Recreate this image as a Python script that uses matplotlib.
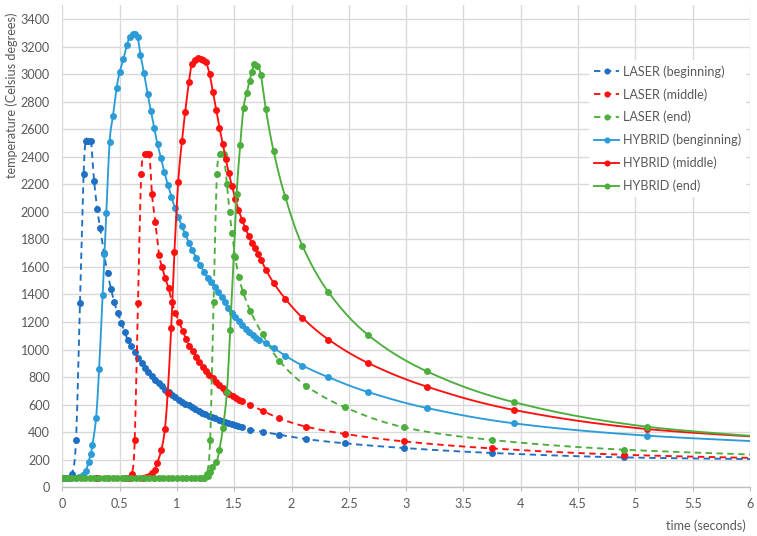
import numpy as np
import matplotlib
matplotlib.use('Agg')
import matplotlib.pyplot as plt
from matplotlib.lines import Line2D

plt.rcParams['font.family'] = ['Lato', 'DejaVu Sans']

# ---------------- data (time in s, temperature in °C) ----------------
lb_t = [0, 0.03, 0.06, 0.085, 0.12, 0.154, 0.186, 0.204, 0.226, 0.25, 0.277, 0.305, 0.33, 0.363, 0.395,
        0.425, 0.453, 0.484, 0.514, 0.543, 0.573, 0.602, 0.631, 0.661, 0.692, 0.722, 0.752, 0.782, 0.811,
        0.84, 0.869, 0.898, 0.927, 0.956, 0.985, 1.014, 1.043, 1.073, 1.102, 1.131, 1.16, 1.189, 1.218,
        1.247, 1.276, 1.305, 1.334, 1.363, 1.392, 1.421, 1.45, 1.479, 1.508, 1.537, 1.566, 1.64, 1.75,
        1.895, 2.128, 2.468, 2.982, 3.753, 4.90, 6.6]
lb_T = [65, 65, 70, 95, 345, 1340, 2272, 2515, 2515, 2515, 2227, 2020, 1882, 1700, 1555,
        1441, 1344, 1264, 1194, 1127, 1068, 1025, 985, 940, 903, 868, 838, 811, 782,
        755, 733, 710, 690, 671, 653, 637, 622, 607, 594, 582, 568, 555, 543,
        532, 521, 510, 500, 490, 481, 472, 464, 456, 449, 442, 436, 418, 402,
        382, 350, 319, 285, 249, 217, 200]

lm_t = [0, 0.3, 0.55, 0.58, 0.608, 0.632, 0.66, 0.689, 0.718, 0.739, 0.76, 0.782, 0.811, 0.844, 0.871,
        0.898, 0.927, 0.957, 0.986, 1.02, 1.05, 1.08, 1.109, 1.14, 1.169, 1.197, 1.226, 1.255, 1.284,
        1.313, 1.342, 1.371, 1.40, 1.429, 1.458, 1.487, 1.516, 1.545, 1.567, 1.64, 1.752, 1.895, 2.128,
        2.468, 2.982, 3.753, 4.90, 6.6]
lm_T = [65, 65, 65, 70, 96, 345, 1340, 2275, 2418, 2418, 2418, 2130, 1928, 1688, 1600,
        1518, 1447, 1344, 1269, 1199, 1135, 1078, 1026, 988, 944, 908, 875, 845, 817,
        792, 766, 740, 718, 695, 678, 663, 650, 637, 629, 598, 555, 500, 440,
        387, 333, 282, 236, 203]

le_t = [0, 0.4, 0.8, 1.2, 1.235, 1.262, 1.29, 1.32, 1.349, 1.38, 1.407, 1.436, 1.459, 1.481, 1.509,
        1.54, 1.576, 1.64, 1.747, 1.895, 2.128, 2.468, 2.982, 3.753, 4.90, 6.6]
le_T = [65, 65, 65, 65, 70, 96, 345, 1342, 2276, 2418, 2418, 2205, 2000, 1845, 1671,
        1530, 1420, 1282, 1110, 917, 736, 580, 435, 343, 273, 222]

hb_t = [0, 0.04, 0.08, 0.12, 0.15, 0.18, 0.205, 0.229, 0.247, 0.262, 0.295, 0.321, 0.352, 0.368, 0.384,
        0.413, 0.442, 0.473, 0.50, 0.533, 0.564, 0.59, 0.614, 0.637, 0.657, 0.682, 0.713, 0.745, 0.773,
        0.802, 0.831, 0.862, 0.891, 0.922, 0.952, 0.981, 1.013, 1.042, 1.072, 1.104, 1.135, 1.17, 1.204,
        1.238, 1.27, 1.30, 1.33, 1.36, 1.39, 1.42, 1.45, 1.48, 1.51, 1.54, 1.57, 1.60, 1.63, 1.66, 1.69,
        1.72, 1.776, 1.843, 1.945, 2.095, 2.322, 2.666, 3.18, 3.944, 5.099, 6.83]
hb_T = [65, 65, 65, 68, 75, 92, 115, 185, 240, 305, 505, 856, 1394, 1697, 1990,
        2509, 2696, 2896, 3013, 3108, 3211, 3272, 3288, 3289, 3270, 3140, 3005, 2853, 2732,
        2609, 2489, 2388, 2286, 2194, 2110, 2031, 1960, 1896, 1839, 1775, 1720, 1663, 1611,
        1562, 1519, 1490, 1452, 1416, 1381, 1345, 1304, 1268, 1237, 1207, 1177, 1150, 1127, 1105, 1087,
        1072, 1049, 1012, 956, 884, 799, 692, 576, 464, 375, 305]

hm_t = [0, 0.3, 0.6, 0.70, 0.73, 0.76, 0.785, 0.805, 0.83, 0.865, 0.895, 0.92, 0.95, 0.978, 1.011,
        1.044, 1.072, 1.105, 1.13, 1.157, 1.182, 1.206, 1.23, 1.253, 1.285, 1.314, 1.343, 1.371, 1.40,
        1.426, 1.452, 1.48, 1.508, 1.537, 1.567, 1.597, 1.626, 1.652, 1.68, 1.708, 1.735, 1.776, 1.843,
        1.945, 2.095, 2.322, 2.666, 3.18, 3.944, 5.099, 6.83]
hm_T = [65, 65, 65, 66, 72, 85, 103, 127, 180, 272, 423, 687, 1155, 1705, 2217,
        2515, 2726, 2944, 3076, 3105, 3117, 3111, 3101, 3087, 3000, 2867, 2740, 2612, 2494,
        2385, 2282, 2188, 2096, 2016, 1944, 1880, 1826, 1776, 1738, 1696, 1650, 1580, 1485,
        1369, 1231, 1073, 903, 731, 561, 423, 330]

he_t = [0, 0.04, 0.08, 0.12, 0.16, 0.2, 0.24, 0.28, 0.32, 0.36, 0.4, 0.44, 0.48, 0.52, 0.56, 0.6,
        0.64, 0.68, 0.72, 0.76, 0.8, 0.84, 0.88, 0.92, 0.96, 1.0, 1.04, 1.08, 1.12, 1.16, 1.2, 1.24,
        1.27, 1.29, 1.31, 1.345, 1.37, 1.401, 1.436, 1.465, 1.497, 1.521, 1.552, 1.581, 1.61, 1.634,
        1.654, 1.676, 1.703, 1.732, 1.776, 1.843, 1.945, 2.095, 2.322, 2.666, 3.18, 3.944, 5.099, 6.83]
he_T = [65, 65, 65, 65, 65, 65, 65, 65, 65, 65, 65, 65, 65, 65, 65, 65,
        65, 65, 65, 65, 65, 65, 65, 65, 65, 65, 65, 65, 65, 65, 65, 65,
        80, 110, 145, 182, 270, 428, 690, 1141, 1676, 2132, 2484, 2755, 2866, 2951,
        3018, 3075, 3058, 2995, 2743, 2441, 2108, 1753, 1417, 1107, 842, 617, 440, 325]

labels = ['LASER (beginning)', 'LASER (middle)', 'LASER (end)',
          'HYBRID (benginning)', 'HYBRID (middle)', 'HYBRID (end)']
x_ticks = [0, 0.5, 1, 1.5, 2, 2.5, 3, 3.5, 4, 4.5, 5, 5.5, 6]
x_ticklabels = ['0', '0.5', '1', '1.5', '2', '2.5', '3', '3.5', '4', '4.5', '5', '5.5', '6']
y_ticks = list(range(0, 3401, 200))

DARKBLUE = '#1f6fc4'
LIGHTBLUE = '#2b9cd8'
RED = '#ff1010'
GREEN = '#4cae3c'
TEXT = '#595959'
GRID = '#d9d9d9'

series = [
    (lb_t, lb_T, DARKBLUE, True),
    (lm_t, lm_T, RED, True),
    (le_t, le_T, GREEN, True),
    (hb_t, hb_T, LIGHTBLUE, False),
    (hm_t, hm_T, RED, False),
    (he_t, he_T, GREEN, False),
]


def smooth(x, y, n=14):
    """Excel-like smoothed line (Bezier through points, Catmull-Rom tangents)."""
    P = np.column_stack([x, y]).astype(float)
    Pp = np.vstack([P[0], P, P[-1]])
    out = [P[:1]]
    s = np.linspace(0, 1, n + 1)[1:, None]
    for i in range(len(P) - 1):
        p0, p1, p2, p3 = Pp[i], Pp[i + 1], Pp[i + 2], Pp[i + 3]
        b1 = p1 + (p2 - p0) / 6.0
        b2 = p2 - (p3 - p1) / 6.0
        seg = ((1 - s) ** 3) * p1 + 3 * ((1 - s) ** 2) * s * b1 + 3 * (1 - s) * s ** 2 * b2 + s ** 3 * p2
        out.append(seg)
    Q = np.vstack(out)
    return Q[:, 0], Q[:, 1]


W, H = 757, 536
fig = plt.figure(figsize=(W / 100, H / 100), dpi=100)
ax = fig.add_axes([62.3 / W, 1 - 487.3 / H, (750 - 62.3) / W, (487.3 - 5.2) / H])

LW = 1.35
DASH = (0, (3.4, 2.4))
MS = 5.0
FS = 9.1
handles = []
for k, (t, T, c, dashed) in enumerate(series):
    sx, sy = smooth(t, T)
    ls = DASH if dashed else '-'
    ax.plot(sx, sy, color=c, lw=LW, ls=ls, zorder=3 + k, solid_capstyle='butt', dash_capstyle='butt')
    ax.plot(t, T, 'o', color=c, ms=MS, mew=0, zorder=3 + k)
    handles.append(Line2D([], [], color=c, lw=LW, ls=ls, marker='o', ms=MS - 0.6, mew=0))

ax.set_xlim(0, 6)
ax.set_ylim(0, 3500)
ax.set_xticks(x_ticks)
ax.set_xticklabels(x_ticklabels)
ax.set_yticks(y_ticks)
ax.grid(True, color=GRID, lw=1.0, zorder=0)
ax.set_axisbelow(True)
for sp in ['top', 'right', 'left']:
    ax.spines[sp].set_visible(False)
ax.spines['bottom'].set_color('#bfbfbf')
ax.spines['bottom'].set_linewidth(1.0)
ax.tick_params(axis='x', length=3, color='#bfbfbf', pad=5, labelsize=FS, labelcolor=TEXT)
ax.tick_params(axis='y', length=0, pad=9, labelsize=FS, labelcolor=TEXT)

fig.text(12 / W, 1 - 13 / H, 'temperature (Celsius degrees)', rotation=90, ha='center', va='top',
         fontsize=FS, color=TEXT)
fig.text(746 / W, 1 - 526 / H, 'time (seconds)', ha='right', va='center', fontsize=FS, color=TEXT)

leg = ax.legend(handles, labels, loc='upper left', bbox_to_anchor=(589 / W, 1 - 60 / H),
                bbox_transform=fig.transFigure, borderaxespad=0, frameon=True, fancybox=False,
                facecolor='white', edgecolor='none', framealpha=1, fontsize=FS,
                handlelength=2.0, handletextpad=0.3, labelspacing=0.82, borderpad=0.4,
                numpoints=1)
for txt in leg.get_texts():
    txt.set_color(TEXT)
leg.set_zorder(20)

fig.savefig('out.png', dpi=100)
